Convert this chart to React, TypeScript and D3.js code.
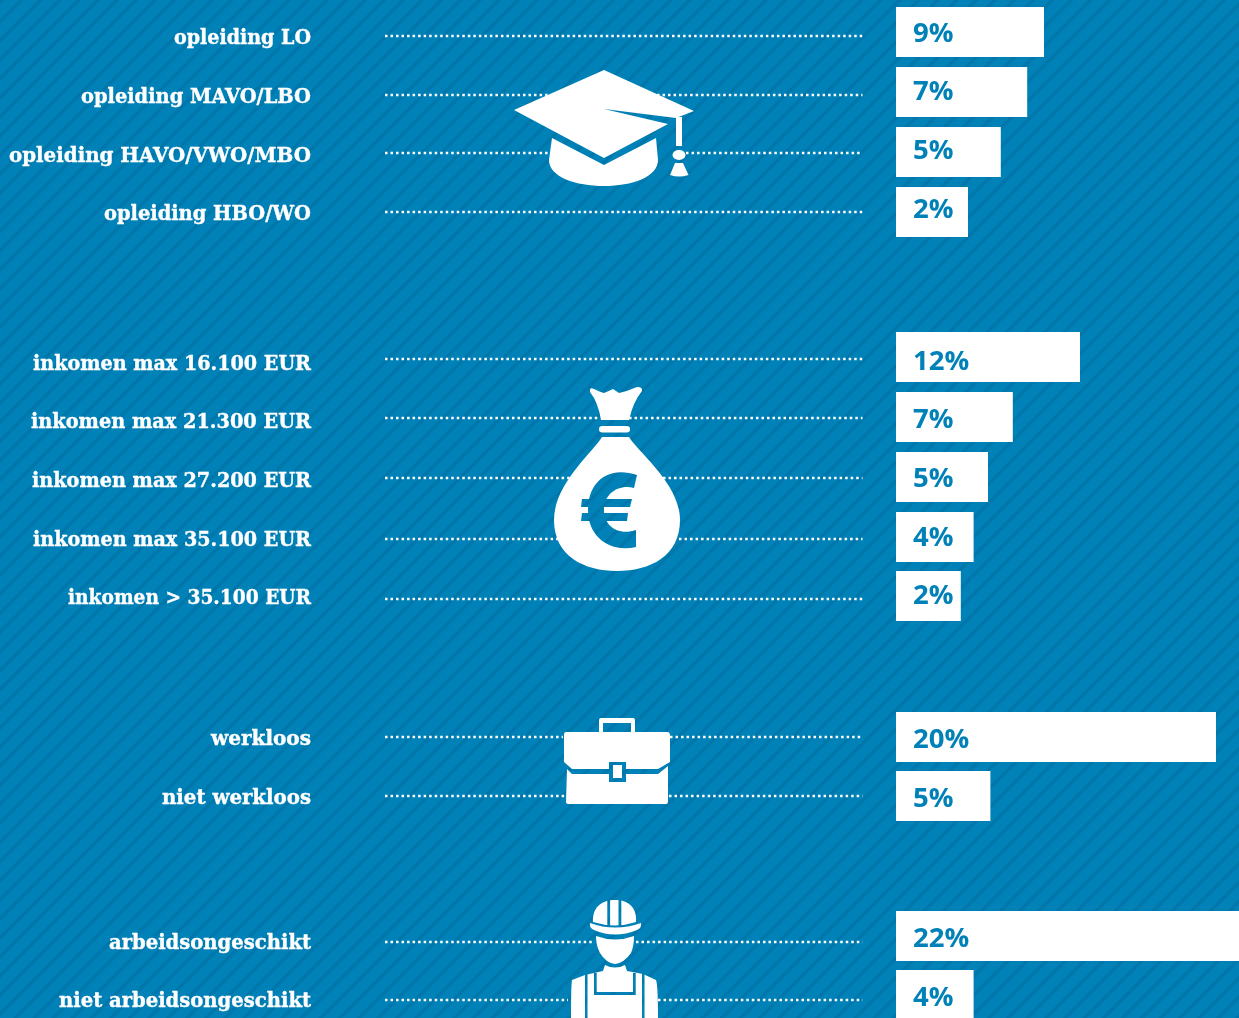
import React from "react";
import * as d3 from "d3";

const W = 1239, H = 1018;
const BLUE = "#0081b7";
const DARK = "#0077aa";

// data
const categories = [
  "opleiding LO", "opleiding MAVO/LBO", "opleiding HAVO/VWO/MBO", "opleiding HBO/WO",
  "inkomen max 16.100 EUR", "inkomen max 21.300 EUR", "inkomen max 27.200 EUR", "inkomen max 35.100 EUR", "inkomen > 35.100 EUR",
  "werkloos", "niet werkloos",
  "arbeidsongeschikt", "niet arbeidsongeschikt",
];
const valueLabels = ["9%", "7%", "5%", "2%", "12%", "7%", "5%", "4%", "2%", "20%", "5%", "22%", "4%"];
const barValues = [9.25, 8.2, 6.55, 4.5, 11.5, 7.3, 5.75, 4.85, 4.05, 20, 5.9, 22.2, 4.85];

// layout
const barTops = [7, 67, 127, 187, 332, 392, 452, 512, 571, 712, 771, 911, 970];
const lineYs = [36, 95, 153, 212, 359, 418, 478, 539, 599, 737, 796, 942, 1000];
const labelYs = [44, 103, 162, 220, 370, 428, 487, 546, 604, 745, 804, 949, 1007];
const labelWidths = [137, 230, 302, 207, 278, 280, 279, 278, 243, 100, 149, 202, 252];
const pctYs = [42, 100, 159, 218, 370, 428, 487, 546, 604, 748, 807, 947, 1006];
const lineGaps: ([number, number] | null)[] = [
  null, [550, 657], [550, 686], null,
  null, [600, 629], [572, 663], [558, 679], null,
  [563, 670], [566, 669],
  [593, 636], [568, 658],
];
const BAR_H = 50;
const LINE_X0 = 385, LINE_X1 = 862.5;

const x = d3.scaleLinear().domain([0, 20]).range([896, 1216]);

const STRIPES = "url(#stripes)";

function Cap() {
  return (
    <g fill="#fff">
      <path d="M514,110 L604,70 L694,111 L676,118 L604,109 L668,124 L604,158 Z" />
      <path d="M552,138 L604,165 L656,138 L658,160 C658,177 632,186 604,186 C576,186 549,177 549,160 Z" />
      <rect x="676" y="117" width="6" height="29" />
      <ellipse cx="679" cy="155" rx="6.5" ry="5" />
      <path d="M675,163 L683,163 L688.5,175 Q679,178 670,175 Z" />
    </g>
  );
}

function Bag() {
  return (
    <g>
      <path fill="#fff" d="M590,390 Q590,387 594,389 Q600,392 604,393 Q609,391 613,389 Q616,391 619,393 Q628,391 637,387 Q643,387 642,391 Q633,402 629,420 L601,420 Q598,402 590,392 Z" />
      <rect fill="#fff" x="599" y="426" width="31" height="6.5" rx="3.2" />
      <path fill="#fff" d="M602,437 L629,437 C638,452 680,484 680,520 C680,556 650,571 617,571 C584,571 554,556 554,520 C554,484 593,452 602,437 Z" />
      <path fill={STRIPES} d="M637,475 C606,465 588,484 588,510 C588,537 610,553 636,547 L636,530 C618,536 604,526 604,510 C604,494 618,484 634,488 Z" />
      <path fill={STRIPES} d="M582,499 L632,499 L630,507 L581,507 Z M582,513 L628,513 L627,521 L581,521 Z" />
    </g>
  );
}

function Case() {
  return (
    <g>
      <path fill="#fff" d="M601,718 L633,718 Q635,718 635,720 L635,734 L631,734 L631,723 L603,723 L603,734 L599,734 L599,720 Q599,718 601,718 Z" />
      <path fill="#fff" d="M566,732 L667,732 Q670,732 670,735 L670,762 L658,769 L626,769 L626,762 L609,762 L609,769 L572,769 L564,762 L564,735 Q564,732 566,732 Z" />
      <path fill="#fff" d="M567,769 L572,774 L609,774 L609,782 L626,782 L626,774 L658,774 L668,766 L668,802 Q668,804 666,804 L569,804 Q566,804 566,802 Z" />
      <rect fill="#fff" x="613" y="765" width="9" height="13" />
    </g>
  );
}

function Worker() {
  return (
    <g>
      <path fill="#fff" d="M593,922 C592,908 601,900 615,900 C629,900 637,908 636,922 Q615,929 593,922 Z" />
      <rect fill={STRIPES} x="607.3" y="899" width="2.8" height="29" />
      <rect fill={STRIPES} x="618.5" y="899" width="2.8" height="29" />
      <path fill="#fff" d="M590,923 Q615,932 641,923 Q642,928 637,930 Q615,939 594,930 Q589,928 590,923 Z" />
      <path fill="#fff" d="M596,936 Q615,943 634,936 Q634,946 631,953 Q624,963 615,964 Q606,963 600,953 Q596,946 596,936 Z" />
      <path fill="#fff" d="M572,980 L585,975 L603,971 L605,965 Q615,970 625,965 L627,971 L643,974 L656,980 Q658,985 658,1018 L571,1018 Q571,985 572,980 Z" />
      <rect fill={STRIPES} x="585" y="973" width="2.5" height="45" />
      <rect fill={STRIPES} x="642" y="973" width="2.5" height="45" />
      <path fill={STRIPES} d="M594,973 L596.7,973 L596.7,992 L633,992 L633,973 L635.7,973 L635.7,995 L594,995 Z" />
    </g>
  );
}

export default function App() {
  return (
    <svg width={W} height={H} viewBox={`0 0 ${W} ${H}`} style={{ position: "fixed", left: 0, top: 0, display: "block" }}>
      <defs>
        <pattern id="stripes" width="13.5" height="13.5" patternUnits="userSpaceOnUse" patternTransform="rotate(-45)">
          <rect width="13.5" height="13.5" fill={BLUE} />
          <rect width="13.5" height="3.4" fill={DARK} />
        </pattern>
      </defs>
      <rect width={W} height={H} fill={STRIPES} />

      {categories.map((c, i) => {
        const gap = lineGaps[i];
        const segs = gap ? [[LINE_X0, gap[0]], [gap[1], LINE_X1]] : [[LINE_X0, LINE_X1]];
        return (
          <g key={c}>
            {segs.map(([a, b]) => (
              <line key={a} x1={a} x2={b} y1={lineYs[i]} y2={lineYs[i]} stroke="#fff" strokeWidth={2.5} strokeDasharray="2.5 3.02" />
            ))}
            <text x={311} y={labelYs[i]} textAnchor="end" fill="#fff" stroke="#fff" strokeWidth={0.35}
              fontFamily="'DejaVu Serif Condensed','DejaVu Serif',serif" fontWeight={700} fontSize={21}
              textLength={labelWidths[i]} lengthAdjust="spacingAndGlyphs">{c}</text>
            <rect x={x(0)} y={barTops[i]} width={x(barValues[i]) - x(0)} height={BAR_H} fill="#fff" />
            <text x={913} y={pctYs[i]} fill={BLUE} fontFamily="'Open Sans',sans-serif" fontWeight={700} fontSize={27.5}>{valueLabels[i]}</text>
          </g>
        );
      })}
      <Cap />
      <Bag />
      <Case />
      <Worker />
    </svg>
  );
}
